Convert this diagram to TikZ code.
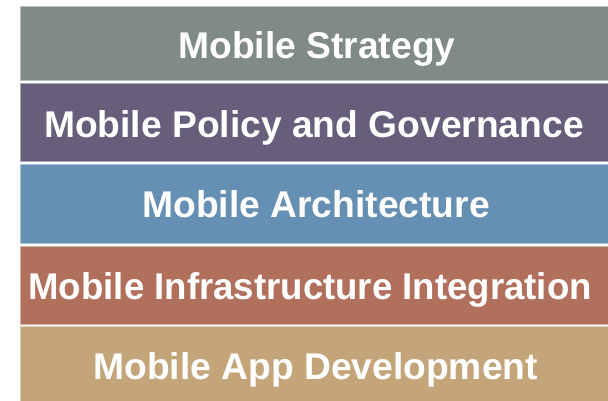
\documentclass[tikz,border=0pt]{standalone}
\usepackage{fontspec}
\setmainfont{Liberation Sans}
\definecolor{cA}{HTML}{7F8B84}
\definecolor{cB}{HTML}{675E7C}
\definecolor{cC}{HTML}{6590B3}
\definecolor{cD}{HTML}{B0705C}
\definecolor{cE}{HTML}{C4A57A}
\begin{document}
\begin{tikzpicture}[x=1pt,y=1pt,
  layer/.style={fill=#1, draw=#1!55!white, line width=1pt},
  lbl/.style={text=white, font=\fontsize{37.2}{40}\selectfont\bfseries, anchor=base west, inner sep=0pt}]
\useasboundingbox (0,0) rectangle (608,-401);
\clip (0,0) rectangle (608,-401);
\path[layer=cA] (20.5,-6.5) rectangle (612,-81);
\path[layer=cB] (20.5,-84) rectangle (612,-162);
\path[layer=cC] (20.5,-165) rectangle (612,-243);
\path[layer=cD] (20.5,-246) rectangle (612,-324);
\path[layer=cE] (20.5,-326.5) rectangle (612,-410);
\node[lbl] (s1) at (178.3,-59) {Mobile Strategy};
\node[lbl] (s2) at (44,-138) {Mobile Policy and Governance};
\node[lbl] (s3) at (142.3,-218) {Mobile Architecture};
\node[lbl] (s4) at (28.3,-299) {\scalebox{0.984}[1]{Mobile Infrastructure Integration}};
\node[lbl] (s5) at (93.3,-379) {Mobile App Development};
\end{tikzpicture}
\end{document}
